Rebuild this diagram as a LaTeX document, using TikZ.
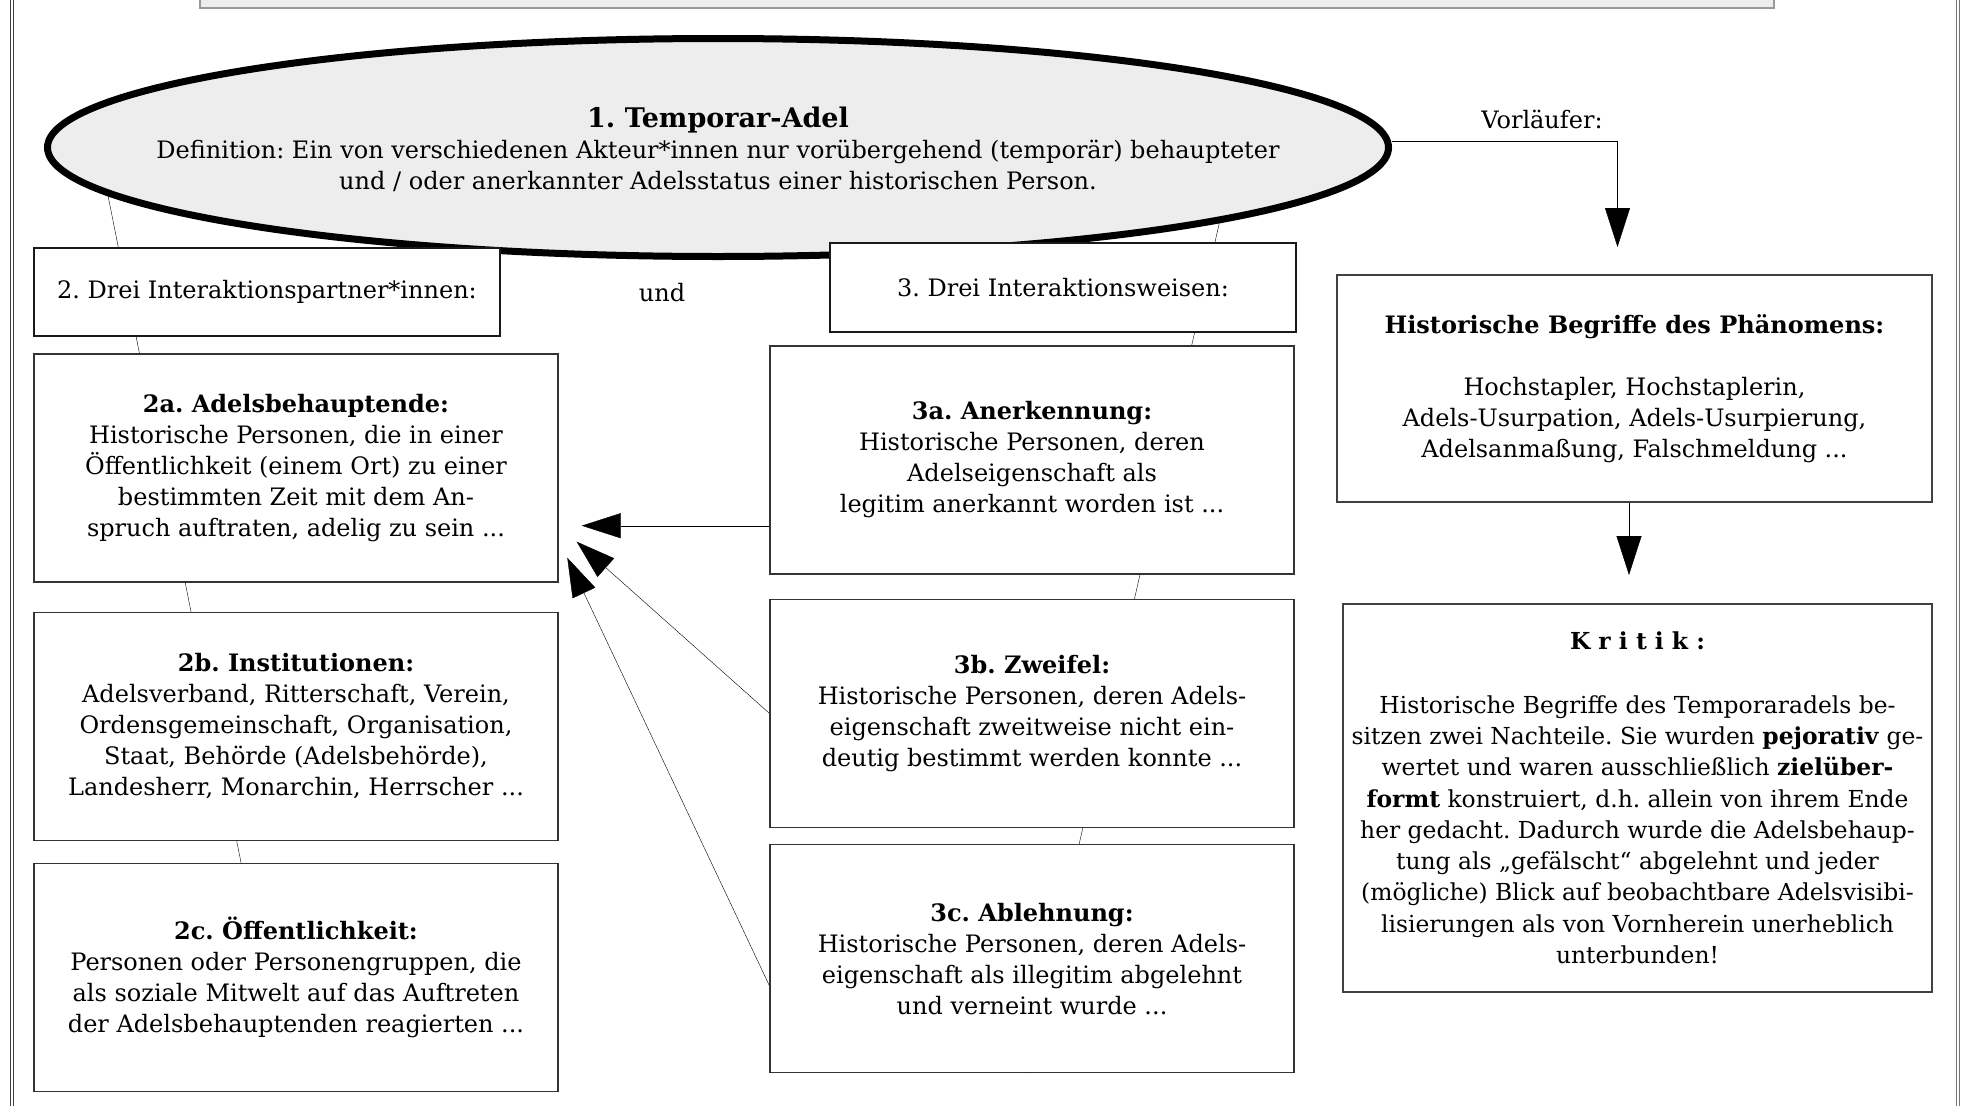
\documentclass[tikz,border=0pt]{standalone}
\usepackage{fontspec}
\setmainfont{DejaVu Serif}
\usetikzlibrary{arrows,arrows.meta}
\usetikzlibrary{positioning,shapes,fit}
\pgfdeclarelayer{background}
\pgfsetlayers{background,main}

\begin{document}
\frenchspacing
\begin{tikzpicture}[%
        x=1pt, y=1pt,
        every node/.style={font=\fontsize{24}{31}\selectfont, align=center, inner sep=0pt},
        box/.style={rectangle, draw=black!80, line width=1.3pt, fill=white,
          minimum width=524pt, minimum height=228pt},
        headbox/.style={rectangle, draw=black!90, line width=1.3pt, fill=white,
          minimum width=466pt, minimum height=88pt},
        sidebox/.style={rectangle, draw=black!75, line width=1.3pt, fill=white},
        line width=1pt, >={Triangle[length=39pt,width=25pt]}
      ]
      \useasboundingbox (0,0) rectangle (1966,-1106);
      % frame and top bar
      \draw[black!75, line width=1.2pt] (10.5,0) -- (10.5,-1106) (13.5,0) -- (13.5,-1106);
      \draw[black!55, line width=1.2pt] (1956.5,0) -- (1956.5,-1106) (1959.5,0) -- (1959.5,-1106);
      \draw[black!40, fill=black!7, line width=1.5pt] (200,20) rectangle (1774,-8);

      \node [] (ell) [ellipse, draw, line width=7pt, fill=black!7,
        minimum width=1341pt, minimum height=218pt, at={(718,-147.5)},
        label={[yshift=-2pt]center:{{\fontsize{27}{34}\selectfont\bfseries 1. Temporar-Adel}\\
         Definition: Ein von verschiedenen Akteur*innen nur vorübergehend (temporär) behaupteter\\
         und / oder anerkannter Adelsstatus einer historischen Person.}}] {};

      \node [headbox] (dip) at (267,-292) {2. Drei Interaktionspartner*innen:};
      \node [] (und) at (662,-293) {und};
      \node [headbox, minimum height=89pt] (diw) at (1063,-287.5) {3. Drei Interaktionsweisen:};

      \node [box] (b2a) at (296,-468) {\textbf{2a. Adelsbehauptende:}\\
        Historische Personen, die in einer\\
        Öffentlichkeit (einem Ort) zu einer\\
        bestimmten Zeit mit dem An-\\
        spruch auftraten, adelig zu sein ...};
      \node [box, below=29pt of b2a] (b2b) {\textbf{2b. Institutionen:}\\
        Adelsverband, Ritterschaft, Verein,\\
        Ordensgemeinschaft, Organisation,\\
        Staat, Behörde (Adelsbehörde),\\
        Landesherr, Monarchin, Herrscher ...};
      \node [box, below=22pt of b2b] (b2c) {\textbf{2c. Öffentlichkeit:}\\
        Personen oder Personengruppen, die\\
        als soziale Mitwelt auf das Auftreten\\
        der Adelsbehauptenden reagierten ...};

      \node [box] (b3a) at (1032,-460) {\textbf{3a. Anerkennung:}\\
        Historische Personen, deren\\
        Adelseigenschaft als\\
        legitim anerkannt worden ist ...};
      \node [box, below=24pt of b3a] (b3b) {\textbf{3b. Zweifel:}\\
        Historische Personen, deren Adels-\\
        eigenschaft zweitweise nicht ein-\\
        deutig bestimmt werden konnte ...};
      \node [box, below=16pt of b3b] (b3c) {\textbf{3c. Ablehnung:}\\
        Historische Personen, deren Adels-\\
        eigenschaft als illegitim abgelehnt\\
        und verneint wurde ...};

      \node [sidebox, minimum width=595pt, minimum height=227pt] (hist) at (1634.5,-388.5)
        {\textbf{Historische Begriffe des Phänomens:}\\[31pt]
         Hochstapler, Hochstaplerin,\\
         Adels-Usurpation, Adels-Usurpierung,\\
         Adelsanmaßung, Falschmeldung ...};
      \node [sidebox, minimum width=589pt, minimum height=388pt,
        font=\fontsize{23.4}{31.3}\selectfont] (krit) at (1637.5,-798)
        {\textbf{K r i t i k :}\\[32pt]
         Historische Begriffe des Temporaradels be-\\
         sitzen zwei Nachteile. Sie wurden \textbf{pejorativ} ge-\\
         wertet und waren ausschließlich \textbf{zielüber-}\\
         \textbf{formt} konstruiert, d.h. allein von ihrem Ende\\
         her gedacht. Dadurch wurde die Adelsbehaup-\\
         tung als „gefälscht“ abgelehnt und jeder\\
         (mögliche) Blick auf beobachtbare Adelsvisibi-\\
         lisierungen als von Vornherein unerheblich\\
         unterbunden!};

      \node [] (vor) at (1542,-119) {Vorläufer:};

      % ends of the connectors
      \coordinate (lt) at (98.9,-150);
      \coordinate (lb) at (248.5,-900);
      \coordinate (rt) at (1229,-180);
      \coordinate (rb) at (1027.5,-1073);
      \coordinate (tipA) at (581.7,-525.7);
      \coordinate (tipB) at (576.7,-541.7);
      \coordinate (tipC) at (567.3,-557.7);
      \coordinate (vtip) at (1617.5,-247);
      \coordinate (ktip) at (1629,-575);

      \begin{pgfonlayer}{background}
        \draw (lt) -- (lb);
        \draw (rt) -- (rb);
      \end{pgfonlayer}

      \draw [->] (b3a.west |- tipA) -- (tipA);
      \draw [->] (b3b.west) -- (tipB);
      \draw [->] ([yshift=-27pt]b3c.west) -- (tipC);
      \draw [->] ([yshift=6.5pt]ell.east) -| (vtip);
      \draw [->] (hist.south -| ktip) -- (ktip);
    \end{tikzpicture}
\end{document}
